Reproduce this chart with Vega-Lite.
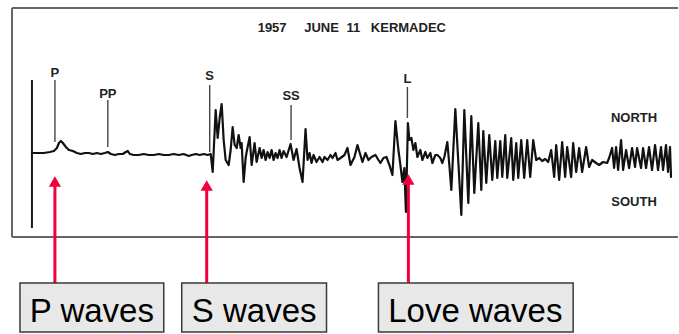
{
  "$schema": "https://vega.github.io/schema/vega-lite/v6.json",
  "width": 679,
  "height": 334,
  "autosize": {"type": "fit", "contains": "padding"},
  "padding": 0,
  "background": "white",
  "config": {"view": {"stroke": null}},
  "datasets": {
    "frame": [
      {"x": 12, "x2": 679, "y": 8, "y2": 8},
      {"x": 12, "x2": 679, "y": 237, "y2": 237},
      {"x": 12, "x2": 12, "y": 8, "y2": 237}
    ],
    "markers": [
      {"phase": "P", "x": 55, "top": 80, "bottom": 142, "ly": 73},
      {"phase": "PP", "x": 108, "top": 100, "bottom": 147, "ly": 94},
      {"phase": "S", "x": 210, "top": 85, "bottom": 152, "ly": 76},
      {"phase": "SS", "x": 291.5, "top": 105, "bottom": 140, "ly": 96},
      {"phase": "L", "x": 408, "top": 87, "bottom": 118, "ly": 79}
    ],
    "start": [{"x": 32, "top": 80, "bottom": 228}],
    "words": [
      {"t": "1957", "x": 272.5, "y": 28},
      {"t": "JUNE", "x": 322, "y": 28},
      {"t": "11", "x": 354, "y": 28},
      {"t": "KERMADEC", "x": 409, "y": 28},
      {"t": "NORTH", "x": 635, "y": 118},
      {"t": "SOUTH", "x": 635, "y": 202}
    ],
    "trace": [
      {"x":32,"y":153},{"x":38,"y":153},{"x":44,"y":153},{"x":50,"y":152},{"x":54,"y":151},{"x":57,"y":148},{"x":59,"y":143},{"x":61,"y":141},{"x":63,"y":143},{"x":66,"y":147},{"x":69,"y":150},{"x":73,"y":151},{"x":77,"y":153},{"x":81,"y":154},{"x":85,"y":153},{"x":89,"y":153},{"x":93,"y":154},{"x":97,"y":153},{"x":101,"y":154},{"x":105,"y":153},{"x":108,"y":152},{"x":111,"y":154},{"x":115,"y":155},{"x":119,"y":154},{"x":123,"y":154},{"x":126,"y":152},{"x":128,"y":151},{"x":130,"y":154},{"x":134,"y":155},{"x":139,"y":155},{"x":144,"y":154},{"x":149,"y":155},{"x":154,"y":155},{"x":159,"y":154},{"x":164,"y":155},{"x":169,"y":155},{"x":174,"y":154},{"x":179,"y":155},{"x":184,"y":154},{"x":189,"y":156},{"x":192,"y":155},{"x":196,"y":154},{"x":200,"y":155},{"x":204,"y":154},{"x":208,"y":155},{"x":211,"y":154},
      {"x":213,"y":172},{"x":216,"y":110},{"x":218,"y":138},{"x":220,"y":118},{"x":222,"y":104},{"x":224,"y":140},{"x":226,"y":160},{"x":229,"y":165},{"x":231,"y":150},{"x":233,"y":127},{"x":235,"y":145},{"x":237,"y":148},{"x":239,"y":135},{"x":241,"y":148},{"x":242,"y":143},{"x":244,"y":182},{"x":246,"y":158},{"x":247,"y":152},{"x":250,"y":137},{"x":252,"y":165},{"x":255,"y":143},{"x":257,"y":162},{"x":260,"y":148},{"x":262,"y":158},{"x":264,"y":150},{"x":266,"y":160},{"x":268,"y":152},{"x":270,"y":158},{"x":272,"y":150},{"x":274,"y":160},{"x":276,"y":153},{"x":278,"y":158},{"x":280,"y":150},{"x":282,"y":158},{"x":284,"y":151},{"x":287,"y":157},{"x":291,"y":144},{"x":294,"y":160},{"x":297,"y":149},{"x":300,"y":168},{"x":303,"y":182},{"x":306,"y":129},{"x":308,"y":160},
      {"x":310,"y":153},{"x":312,"y":163},{"x":314,"y":155},{"x":317,"y":162},{"x":320,"y":157},{"x":323,"y":162},{"x":325,"y":157},{"x":328,"y":160},{"x":331,"y":155},{"x":333,"y":158},{"x":336,"y":153},{"x":338,"y":160},{"x":341,"y":158},{"x":345,"y":155},{"x":348,"y":148},{"x":351,"y":165},{"x":355,"y":157},{"x":358,"y":145},{"x":360,"y":152},{"x":363,"y":162},{"x":366,"y":153},{"x":369,"y":160},{"x":372,"y":157},{"x":376,"y":155},{"x":379,"y":160},{"x":381,"y":163},{"x":384,"y":158},{"x":387,"y":157},{"x":390,"y":165},{"x":393,"y":175},{"x":396,"y":121},{"x":399,"y":150},{"x":401,"y":165},{"x":403,"y":182},{"x":405,"y":168},{"x":406.5,"y":212},{"x":408.5,"y":123},{"x":410,"y":140},{"x":412,"y":138},{"x":414,"y":150},{"x":416,"y":143},{"x":418,"y":157},{"x":421,"y":150},{"x":423,"y":160},{"x":426,"y":152},{"x":428,"y":158},{"x":431,"y":153},{"x":433,"y":163},{"x":436,"y":155},{"x":438,"y":155},{"x":441,"y":158},{"x":443,"y":163},{"x":445,"y":157},{"x":448,"y":142},{"x":450,"y":165},
      {"x":452,"y":190},{"x":456,"y":109},{"x":462,"y":215},{"x":465,"y":110},{"x":469,"y":203},{"x":472,"y":116},{"x":475,"y":193},{"x":479,"y":123},{"x":482,"y":190},{"x":484,"y":131},{"x":487,"y":183},{"x":490,"y":135},{"x":493,"y":180},{"x":496,"y":141},{"x":498,"y":178},{"x":501,"y":141},{"x":503,"y":177},{"x":506,"y":135},{"x":508,"y":178},{"x":512,"y":138},{"x":514,"y":180},{"x":517,"y":143},{"x":519,"y":178},{"x":522,"y":140},{"x":525,"y":178},{"x":528,"y":140},{"x":531,"y":177},{"x":534,"y":140},{"x":537,"y":160},{"x":540,"y":158},{"x":543,"y":161},{"x":546,"y":159},{"x":549,"y":162},{"x":552,"y":150},{"x":555,"y":177},{"x":557,"y":145},{"x":560,"y":180},{"x":563,"y":142},{"x":566,"y":177},{"x":568,"y":147},{"x":572,"y":177},{"x":574,"y":143},{"x":577,"y":172},{"x":580,"y":148},{"x":583,"y":172},{"x":587,"y":147},{"x":590,"y":167},{"x":593,"y":160},{"x":597,"y":163},{"x":600,"y":165},{"x":604,"y":162},{"x":608,"y":163},{"x":610,"y":158},{"x":613,"y":148},{"x":615,"y":168},{"x":617,"y":147},{"x":619,"y":170},{"x":622,"y":140},{"x":624,"y":170},{"x":627,"y":150},{"x":630,"y":168},{"x":633,"y":148},{"x":636,"y":167},{"x":638,"y":148},{"x":642,"y":168},{"x":644,"y":148},{"x":647,"y":168},{"x":650,"y":147},{"x":653,"y":170},{"x":656,"y":145},{"x":659,"y":170},{"x":662,"y":147},{"x":664,"y":170},{"x":667,"y":145},{"x":669,"y":172},{"x":671,"y":147},{"x":672,"y":177}
    ],
    "arrows": [
      {"wave": "P waves", "x": 55, "tip": 176, "head": 181.5, "shaft": 184, "base": 283, "x1": 20, "x2": 164, "tx": 92},
      {"wave": "S waves", "x": 207, "tip": 180, "head": 185.5, "shaft": 188, "base": 283, "x1": 182, "x2": 327, "tx": 254.5},
      {"wave": "Love waves", "x": 409, "tip": 174, "head": 179.5, "shaft": 182, "base": 283, "x1": 379, "x2": 574, "tx": 476}
    ]
  },
  "encoding": {
    "x": {"type": "quantitative", "scale": {"domain": [0, 679], "nice": false, "zero": false}, "axis": null},
    "y": {"type": "quantitative", "scale": {"domain": [0, 334], "reverse": true, "nice": false, "zero": false}, "axis": null}
  },
  "layer": [
    {
      "data": {"name": "frame"},
      "mark": {"type": "rule", "color": "#666666", "strokeWidth": 2},
      "encoding": {"x": {"field": "x"}, "x2": {"field": "x2"}, "y": {"field": "y"}, "y2": {"field": "y2"}}
    },
    {
      "data": {"name": "start"},
      "mark": {"type": "rule", "color": "#1a1a1a", "strokeWidth": 2},
      "encoding": {"x": {"field": "x"}, "y": {"field": "top"}, "y2": {"field": "bottom"}}
    },
    {
      "data": {"name": "markers"},
      "mark": {"type": "rule", "color": "#444444", "strokeWidth": 1.4},
      "encoding": {"x": {"field": "x"}, "y": {"field": "top"}, "y2": {"field": "bottom"}}
    },
    {
      "data": {"name": "markers"},
      "mark": {"type": "text", "font": "Liberation Sans", "fontWeight": "bold", "fontSize": 13, "color": "#222222", "align": "center", "baseline": "middle"},
      "encoding": {"x": {"field": "x"}, "y": {"field": "ly"}, "text": {"field": "phase"}}
    },
    {
      "data": {"name": "words"},
      "mark": {"type": "text", "font": "Liberation Sans", "fontWeight": "bold", "fontSize": 13, "color": "#222222", "align": "center", "baseline": "middle"},
      "encoding": {"x": {"field": "x"}, "y": {"field": "y"}, "text": {"field": "t"}}
    },
    {
      "data": {"name": "trace"},
      "mark": {"type": "line", "color": "#111111", "strokeWidth": 2.2, "strokeJoin": "round", "strokeCap": "round"},
      "encoding": {"x": {"field": "x"}, "y": {"field": "y"}}
    },
    {
      "data": {"name": "arrows"},
      "mark": {"type": "rule", "color": "#f2003c", "strokeWidth": 3},
      "encoding": {"x": {"field": "x"}, "y": {"field": "shaft"}, "y2": {"field": "base"}}
    },
    {
      "data": {"name": "arrows"},
      "mark": {"type": "point", "shape": "triangle-up", "filled": true, "color": "#f2003c", "size": 150, "opacity": 1},
      "encoding": {"x": {"field": "x"}, "y": {"field": "head"}}
    },
    {
      "data": {"name": "arrows"},
      "mark": {"type": "rect", "fill": "#e8e8e8", "stroke": "#3a3a3a", "strokeWidth": 1.5},
      "encoding": {"x": {"field": "x1"}, "x2": {"field": "x2"}, "y": {"datum": 283}, "y2": {"datum": 332}}
    },
    {
      "data": {"name": "arrows"},
      "mark": {"type": "text", "font": "Liberation Sans", "fontSize": 33, "color": "#000000", "align": "center", "baseline": "alphabetic"},
      "encoding": {"x": {"field": "tx"}, "y": {"datum": 322}, "text": {"field": "wave"}}
    }
  ]
}
